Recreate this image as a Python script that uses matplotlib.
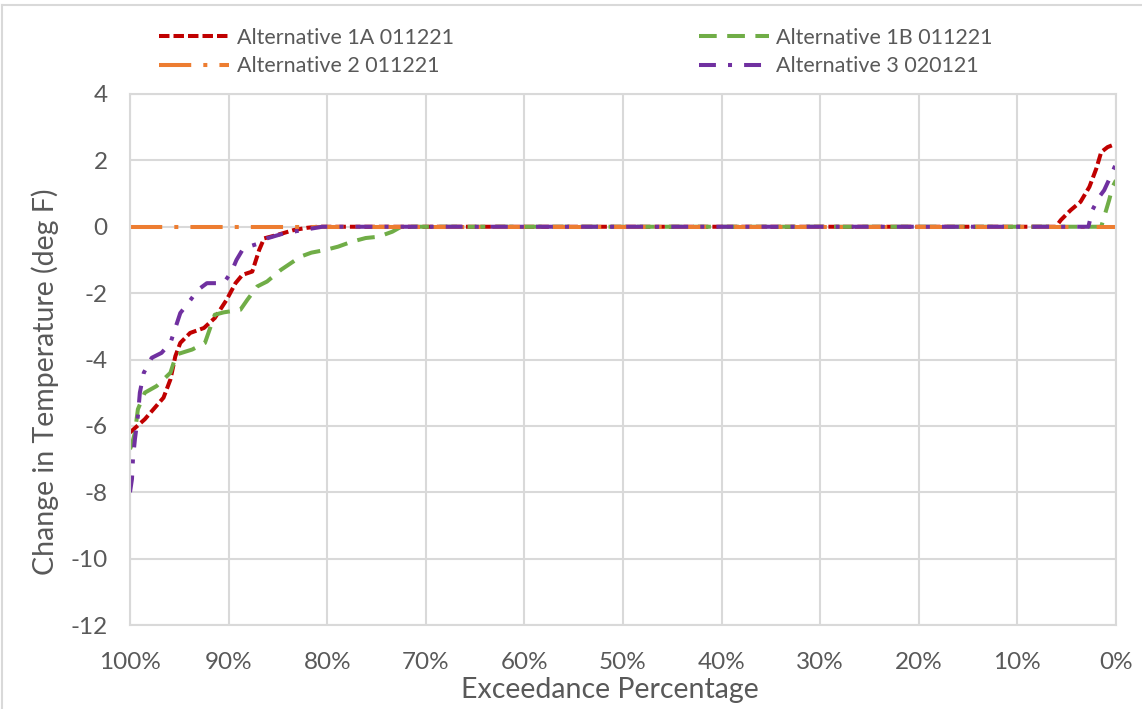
import matplotlib
matplotlib.use("Agg")
import matplotlib.pyplot as plt
from matplotlib.lines import Line2D

# exceedance percentage (x) and change in temperature (y) for each alternative
pct_1a = [100, 98.5, 96.6, 95.9, 95.4, 94.9, 93.9, 92.5, 91.4, 90.2, 89.3, 88.6, 87.6,
          86.9, 86.4, 85.1, 83.4, 82.0, 81.0, 6.1, 5.6, 4.6, 3.6, 2.7, 2.0, 1.5, 0.85, 0]
val_1a = [-6.2, -5.8, -5.15, -4.6, -3.9, -3.5, -3.2, -3.05, -2.75, -2.2, -1.7, -1.45, -1.35,
          -0.7, -0.35, -0.25, -0.1, -0.03, 0, 0, 0.2, 0.5, 0.75, 1.2, 1.75, 2.25, 2.4, 2.5]

pct_1b = [100, 99.8, 99.5, 99.2, 98.5, 97.3, 95.9, 95.3, 93.7, 92.4, 91.4, 90.5, 88.8, 88.1,
          87.1, 86.1, 84.7, 82.7, 81.6, 80.2, 78.9, 77.5, 76.1, 74.8, 73.4, 72.5,
          1.5, 1.0, 0.7, 0.35, 0]
val_1b = [-6.7, -6.55, -6.2, -5.5, -5.0, -4.8, -4.4, -3.85, -3.7, -3.5, -2.65, -2.58, -2.5, -2.2,
          -1.8, -1.65, -1.3, -0.9, -0.78, -0.7, -0.6, -0.45, -0.34, -0.3, -0.15, 0,
          0, 0.5, 0.8, 1.2, 1.4]

pct_2 = [100, 0]
val_2 = [0, 0]

pct_3 = [100, 99.8, 99.7, 99.5, 99.2, 99.0, 98.6, 97.8, 96.8, 95.9, 95.4, 94.9, 94.1, 93.1,
         92.2, 90.5, 89.7, 89.2, 88.5, 86.9, 86.1, 84.4, 82.5, 81.5, 80.5,
         2.8, 2.4, 1.7, 1.2, 0.5, 0]
val_3 = [-8.0, -7.6, -7.0, -6.4, -5.7, -5.0, -4.4, -3.95, -3.8, -3.5, -3.05, -2.6, -2.3, -1.9,
         -1.7, -1.7, -1.35, -1.0, -0.65, -0.5, -0.35, -0.2, -0.1, -0.05, 0,
         0, 0.5, 0.9, 1.1, 1.55, 1.9]

labels = ["Alternative 1A 011221", "Alternative 1B 011221",
          "Alternative 2 011221", "Alternative 3 020121"]
x_ticks = list(range(100, -1, -10))
y_ticks = list(range(-12, 5, 2))

plt.rcParams["font.family"] = ["Lato", "DejaVu Sans"]
plt.rcParams["axes.unicode_minus"] = False
txt = "#595959"
grid = "#D9D9D9"

W, H = 1142, 709
fig = plt.figure(figsize=(W / 100, H / 100), dpi=100)
ax = fig.add_axes([130 / W, 1 - 625 / H, (1116 - 130) / W, (625 - 94) / H])

lw = 2.9
l1, = ax.plot(pct_1a, val_1a, color="#C00000", lw=lw, dashes=(2.6, 1.0), label=labels[0])
l2, = ax.plot(pct_1b, val_1b, color="#70AD47", lw=lw, dashes=(4.4, 2.6), label=labels[1])
l3, = ax.plot(pct_2, val_2, color="#ED7D31", lw=lw, dashes=(8, 3, 1, 3), label=labels[2])
l4, = ax.plot(pct_3, val_3, color="#7030A0", lw=lw, dashes=(4.2, 3, 1, 3), label=labels[3])

ax.set_xlim(100, 0)
ax.set_ylim(-12, 4)
ax.set_xticks(x_ticks)
ax.set_xticklabels([f"{t}%" for t in x_ticks])
ax.set_yticks(y_ticks)
ax.grid(True, color=grid, lw=1.5)
ax.set_axisbelow(True)
for s in ax.spines.values():
    s.set_color(grid)
    s.set_linewidth(1.5)
ax.tick_params(length=0, labelsize=17.5, colors=txt)
ax.tick_params(axis="x", pad=19.5)
ax.tick_params(axis="y", pad=16)

fig.text(45 / W, 1 - 382 / H, "Change in Temperature (deg F)", rotation=90,
         ha="center", va="center", fontsize=20.5, color=txt)
fig.text(610 / W, 1 - 690 / H, "Exceedance Percentage",
         ha="center", va="center", fontsize=20.5, color=txt)

leg = fig.legend([l1, l3, l2, l4], [labels[0], labels[2], labels[1], labels[3]],
                 ncol=2, loc="center", bbox_to_anchor=(576 / W, 1 - 52 / H),
                 frameon=False, fontsize=15.5, handlelength=3.25, handletextpad=0.33,
                 columnspacing=11.4, labelspacing=0.40, borderpad=0)
for t in leg.get_texts():
    t.set_color(txt)

# outer chart border (top and left edges visible)
fig.add_artist(Line2D([2 / W, 1], [1 - 5 / H, 1 - 5 / H], color=grid, lw=1.5))
fig.add_artist(Line2D([2 / W, 2 / W], [0, 1 - 5 / H], color=grid, lw=1.5))

fig.savefig("out.png", dpi=100)
